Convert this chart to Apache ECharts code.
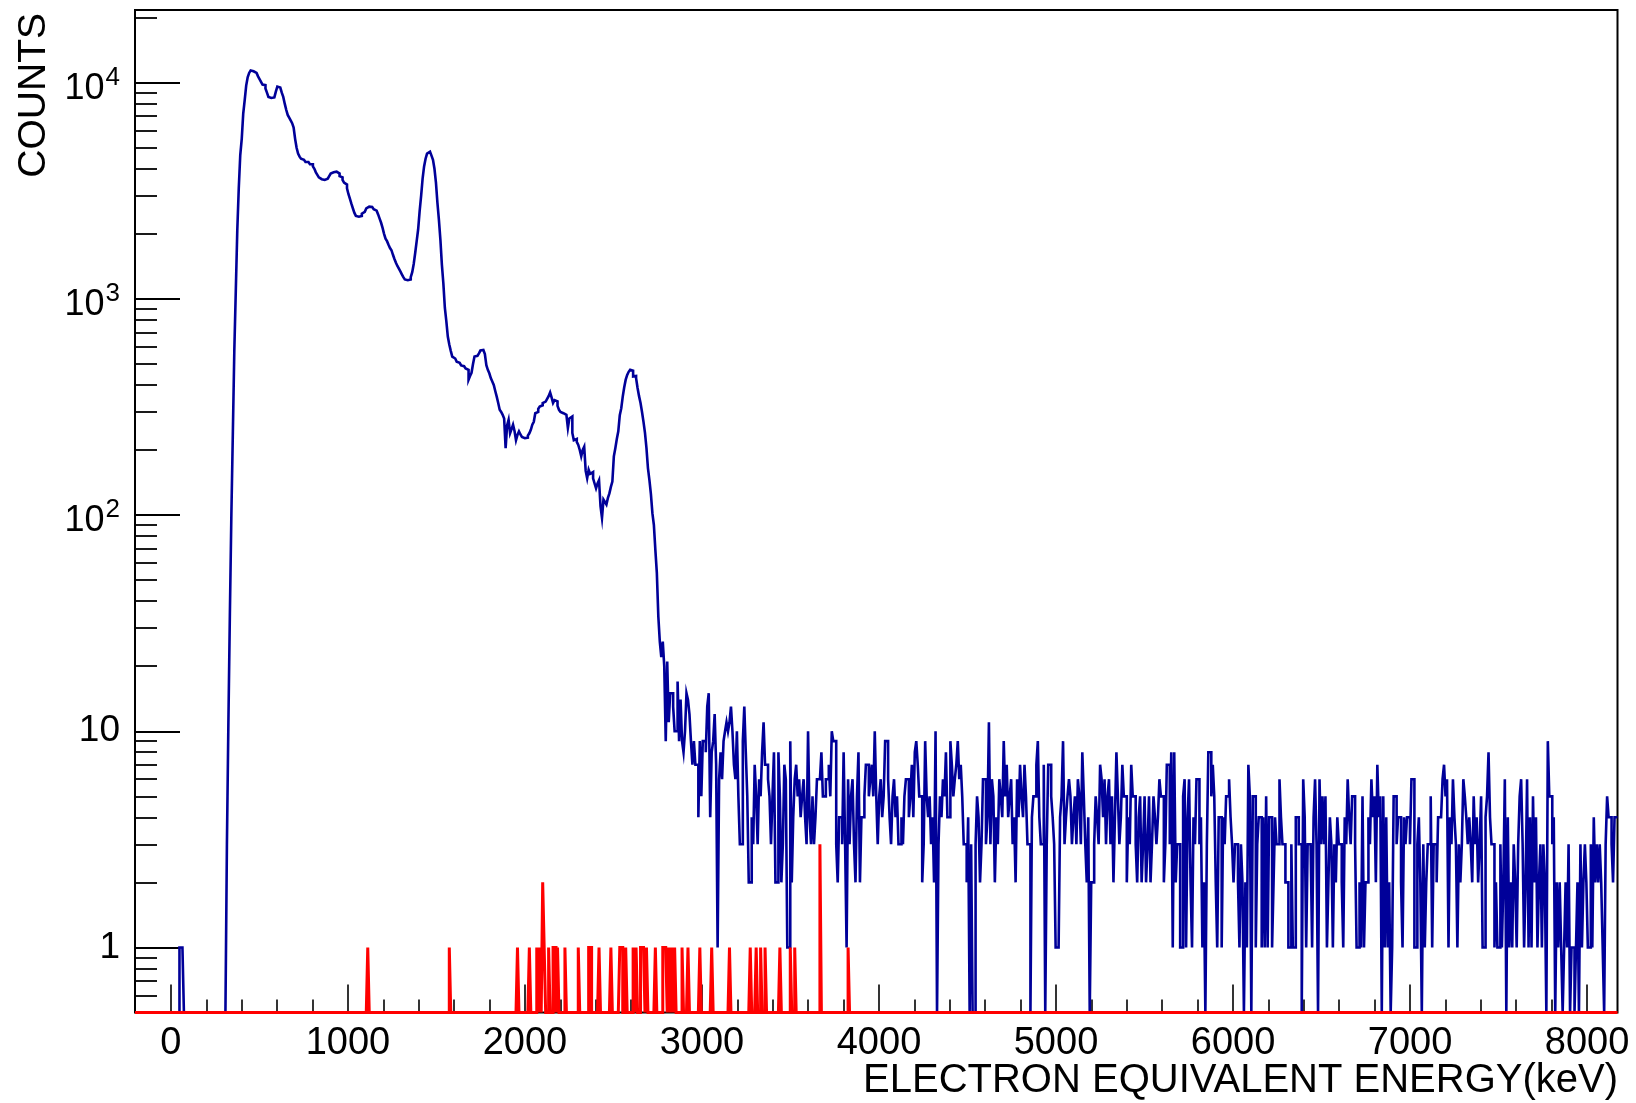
<!DOCTYPE html>
<html>
<head>
<meta charset="utf-8">
<script src="https://cdn.jsdelivr.net/npm/echarts@6.0.0/dist/echarts.min.js"></script>
<style>
html,body{margin:0;padding:0;background:#ffffff;}
#c{width:1636px;height:1103px;}
</style>
</head>
<body>
<div id="c"></div>
<script>
// ---------- axis ranges / binning ----------
const X_MIN = -203;          // keV, left edge of histogram
const BIN_W = 8.375;         // keV per bin
const N_BINS = 1000;
const X_MAX = X_MIN + N_BINS * BIN_W;   // 8172 keV
const Y_MIN = 0.5;
const Y_MAX = 21700;

// ---------- tick labels ----------
const xMajorTicks = [0, 1000, 2000, 3000, 4000, 5000, 6000, 7000, 8000];
const xMinorTicks = [200, 400, 600, 800, 1200, 1400, 1600, 1800, 2200, 2400, 2600, 2800,
  3200, 3400, 3600, 3800, 4200, 4400, 4600, 4800, 5200, 5400, 5600, 5800,
  6200, 6400, 6600, 6800, 7200, 7400, 7600, 7800];
const yDecadeTicks = [1, 10, 100, 1000, 10000];
const yMinorTicks = [0.6, 0.7, 0.8, 0.9, 2, 3, 4, 5, 6, 7, 8, 9,
  20, 30, 40, 50, 60, 70, 80, 90, 200, 300, 400, 500, 600, 700, 800, 900,
  2000, 3000, 4000, 5000, 6000, 7000, 8000, 9000, 20000];
const xTitle = 'ELECTRON EQUIVALENT ENERGY(keV)';
const yTitle = 'COUNTS';

// ---------- blue histogram (counts per bin) ----------
// bins 0-61  (-203 .. 316 keV)
const blueHead = [0,0,0,0,0,0,0,0,0,0, 0,0,0,0,0,0,0,0,0,0, 0,0,0,0,0,0,0,0,0,0,
  1,1,1,0,0,0,0,0,0,0, 0,0,0,0,0,0,0,0,0,0, 0,0,0,0,0,0,0,0,0,0, 0,0];
// bins 62-367 (316 .. 2879 keV)
const bluePeaks = [
  3,11,35,100,240,580,1100,2080,3260,4630,
  5500,7200,8300,9700,10600,11100,11400,11300,11300,11100,
  11000,10700,10400,10100,9800,9750,9400,9000,8600,8500,
  8500,8550,8700,9100,9600,9500,9300,9000,8600,8000,
  7500,7100,6900,6700,6500,6200,5500,5000,4700,4550,
  4450,4400,4350,4300,4300,4250,4200,4200,4100,4000,
  3850,3750,3650,3580,3550,3550,3600,3600,3660,3700,
  3800,3850,3900,3880,3850,3800,3700,3650,3550,3450,
  3380,3250,3050,2900,2750,2620,2500,2420,2400,2380,
  2420,2480,2530,2580,2620,2670,2680,2660,2640,2600,
  2560,2510,2460,2350,2250,2130,2000,1900,1850,1780,
  1720,1680,1600,1530,1470,1420,1380,1340,1300,1260,
  1230,1220,1220,1230,1260,1330,1450,1630,1850,2100,
  2550,3000,3600,4100,4450,4700,4800,4750,4600,4400,
  4000,3450,2780,2320,1880,1440,1180,910,790,670,
  615,575,541,530,520,512,506,500,492,488,
  482,477,470,423,440,455,500,541,545,552,
  560,577,580,570,555,494,470,453,430,415,
  400,375,353,330,307,300,291,280,204,260,
  276,239,250,262,245,222,235,244,236,230,
  227,227,228,233,239,248,262,270,296,300,
  310,318,322,330,335,341,345,355,369,350,
  330,340,336,320,307,300,296,293,291,285,
  253,280,286,240,222,225,218,211,200,187,
  200,207,160,148,162,155,158,148,140,133,
  140,145,110,97,118,115,112,120,126,135,
  143,187,204,225,244,290,312,353,390,423,
  445,460,470,465,438,440,430,387,355,330,
  300,270,240,204,165,145,125,102,90,69,
  54,34,26,22,26,20,9,21,11,15,
  15,13,10,10,17,9];
// bins 368-677 (2879 .. 5475 keV)
const blueTailA = [
  14,9,8,10,15,14,12,9,7,9,
  7,7,4,9,5,9,9,8,13,15,
  4,8,9,12,7,1,6,8,6,9,
  10,11,10,11,13,10,7,6,10,5,
  3,3,9,13,8,5,2,2,4,3,
  7,5,3,6,5,8,11,7,7,6,
  5,3,5,8,2,2,8,5,2,3,
  7,6,1,1,9,2,4,6,7,5,
  6,4,5,6,4,3,10,4,3,5,
  3,4,6,6,6,8,5,5,6,6,
  7,5,10,9,9,3,2,4,4,3,
  8,3,1,6,3,5,6,3,2,5,
  8,2,4,4,5,7,7,5,6,7,
  5,10,5,3,5,6,4,5,9,9,
  6,4,3,5,6,4,5,3,3,4,
  3,5,6,6,4,5,7,4,8,9,
  7,5,5,2,3,9,5,4,5,3,
  4,2,10,0,3,5,4,6,5,8,
  4,4,9,7,5,6,7,9,6,7,
  5,3,3,2,4,0,3,0,0,3,
  5,4,2,3,6,6,3,4,11,3,
  6,5,2,4,3,6,5,4,9,5,
  7,4,5,6,3,4,2,6,4,7,
  5,4,7,5,3,3,0,4,5,5,
  7,9,4,3,3,7,0,3,7,7,
  5,4,3,1,1,1,4,5,9,3,
  4,5,6,5,3,4,5,3,6,5,
  3,8,5,3,2,4,0,2,2,3,
  5,4,3,7,6,4,6,3,5,6,
  3,5,2,4,8,5,3,4,7,5,
  5,2,4,3,7,5,5,3,2,4];
// bins 678-999 (5475 .. 8172 keV)
const blueTailB = [
  5,2,3,5,2,3,5,2,3,5,
  4,3,4,6,5,5,2,3,7,7,
  3,8,1,8,2,3,3,1,1,5,
  6,1,4,6,2,1,4,3,6,6,
  3,4,1,2,0,3,8,8,5,7,
  5,2,1,4,4,1,4,3,5,5,
  6,4,3,2,3,3,2,1,3,2,
  0,2,1,7,5,0,5,5,1,3,
  4,4,1,4,1,5,1,4,4,1,
  2,4,3,3,6,4,3,3,2,2,
  1,1,3,1,1,4,4,3,3,0,
  6,4,1,3,3,3,1,4,6,3,
  0,6,3,5,3,5,1,2,4,3,
  1,3,2,4,3,3,2,1,4,3,
  6,4,3,5,5,3,1,1,2,1,
  5,1,2,2,4,3,6,4,5,2,
  7,4,5,0,5,1,4,1,2,0,
  1,5,5,3,4,4,2,1,4,3,
  4,4,3,6,6,1,1,3,4,2,
  0,3,1,2,3,3,5,1,3,3,
  2,4,4,4,6,7,5,6,1,4,
  3,6,4,3,1,3,2,3,6,5,
  4,3,4,3,2,5,3,4,2,3,
  5,1,1,4,5,8,4,3,3,1,
  2,1,1,3,1,2,6,0,4,1,
  2,1,3,2,1,3,5,6,3,1,
  2,6,1,4,1,5,2,4,1,2,
  3,1,3,2,0,9,5,5,3,4,
  0,2,1,2,1,0,1,2,1,3,
  0,1,1,0,1,2,0,3,1,2,
  3,2,1,1,3,1,4,2,3,2,
  3,2,1,0,3,5,4,4,3,2,
  4,4];

// ---------- red histogram (non-empty bins) ----------
const redEnergy = [1119, 1573, 1965, 2026, 2073, 2088, 2101, 2112, 2135, 2159, 2169, 2191,
  2233, 2308, 2360, 2370, 2423, 2492, 2536, 2549, 2572, 2619,
  2634, 2653, 2666, 2677, 2690, 2737, 2781, 2794, 2803, 2818,
  2837, 2850, 2888, 2929, 2988, 3063, 3161, 3278, 3312, 3334,
  3359, 3447, 3506, 3532, 3669, 3833];
const redValues = [1, 1, 1, 1, 1, 1, 2, 1, 1, 1, 1, 1,
  1, 1, 1, 1, 1, 1, 1, 1, 1, 1,
  1, 1, 1, 1, 1, 1, 1, 1, 1, 1,
  1, 1, 1, 1, 1, 1, 1, 1, 1, 1,
  1, 1, 1, 1, 3, 1];

// ---------- build ----------
const FONT = '"Liberation Sans", Arial, Helvetica, sans-serif';
const blueCounts = blueHead.concat(bluePeaks, blueTailA, blueTailB);
const redCounts = new Array(N_BINS).fill(0);
redEnergy.forEach(function (e, k) {
  redCounts[Math.floor((e - X_MIN) / BIN_W)] = redValues[k];
});

// histogram outline: each bin contributes its left and right edge at its count
// (empty bins are drawn on the lower frame edge, as ROOT does on a log axis)
function histOutline(counts) {
  const pts = [];
  for (let i = 0; i < counts.length; i++) {
    const v = counts[i] > 0 ? counts[i] : Y_MIN;
    pts.push([X_MIN + i * BIN_W, v]);
    pts.push([X_MIN + (i + 1) * BIN_W, v]);
  }
  return pts;
}

const chart = echarts.init(document.getElementById('c'), null, {renderer: 'canvas', width: 1636, height: 1103});

const option = {
  animation: false,
  backgroundColor: '#ffffff',
  grid: {
    left: 135, top: 10, right: 18.5, bottom: 90.5,
    show: true, borderColor: '#000000', borderWidth: 2, backgroundColor: 'transparent',
    containLabel: false, outerBoundsMode: 'none'
  },
  xAxis: [{
    type: 'value', min: X_MIN, max: X_MAX, position: 'bottom',
    axisLine: {show: false, onZero: false},
    splitLine: {show: false},
    axisTick: {show: true, inside: true, length: 28, customValues: xMajorTicks,
      lineStyle: {color: '#000000', width: 1.6}},
    axisLabel: {show: true, customValues: xMajorTicks, margin: 12,
      color: '#000000', fontSize: 38, fontFamily: FONT,
      formatter: function (v) { return String(v); }}
  }, {
    type: 'value', min: X_MIN, max: X_MAX, position: 'bottom',
    axisLine: {show: false, onZero: false}, splitLine: {show: false}, axisLabel: {show: false},
    axisTick: {show: true, inside: true, length: 13, customValues: xMinorTicks,
      lineStyle: {color: '#000000', width: 1.6}}
  }],
  yAxis: [{
    type: 'log', logBase: 10, min: Y_MIN, max: Y_MAX, position: 'left',
    axisLine: {show: false, onZero: false},
    splitLine: {show: false},
    axisTick: {show: true, inside: true, length: 45, lineStyle: {color: '#000000', width: 1.8}},
    axisLabel: {
      show: true, margin: 15, color: '#000000', fontSize: 37, fontFamily: FONT,
      formatter: function (v) {
        const l = Math.log10(v);
        const e = Math.round(l);
        if (Math.abs(l - e) > 1e-6 || yDecadeTicks.indexOf(Math.pow(10, e)) < 0) return '';
        if (e === 0) return '1';
        if (e === 1) return '10';
        return '{b|10}{s|' + e + '}';
      },
      rich: {
        b: {fontSize: 36, fontFamily: FONT, color: '#000000', lineHeight: 36, padding: [12, 0, 0, 0]},
        s: {fontSize: 26, fontFamily: FONT, color: '#000000', lineHeight: 26, padding: [0, 0, 10, 1]}
      }
    }
  }, {
    type: 'value', min: Math.log10(Y_MIN), max: Math.log10(Y_MAX), position: 'left',
    axisLine: {show: false, onZero: false}, splitLine: {show: false}, axisLabel: {show: false},
    axisTick: {show: true, inside: true, length: 22,
      customValues: yMinorTicks.map(function (v) { return Math.log10(v); }),
      lineStyle: {color: '#000000', width: 1.8}}
  }],
  graphic: [{
    type: 'text', x: 34, y: 13, rotation: Math.PI / 2,
    style: {text: yTitle, fill: '#000000', fontSize: 39, fontFamily: FONT,
      align: 'right', verticalAlign: 'middle'}
  }, {
    type: 'text', x: 1618, y: 1081,
    style: {text: xTitle, fill: '#000000', fontSize: 40, fontFamily: FONT,
      align: 'right', verticalAlign: 'middle'}
  }],
  series: [{
    name: 'blue', type: 'line', xAxisIndex: 0, yAxisIndex: 0,
    data: histOutline(blueCounts), showSymbol: false, symbol: 'none',
    clip: false, silent: true, z: 3,
    lineStyle: {color: '#000099', width: 2.6, join: 'miter'}
  }, {
    name: 'red', type: 'line', xAxisIndex: 0, yAxisIndex: 0,
    data: histOutline(redCounts), showSymbol: false, symbol: 'none',
    clip: false, silent: true, z: 4,
    lineStyle: {color: '#ff0000', width: 3, join: 'miter'}
  }]
};
chart.setOption(option);
</script>
</body>
</html>
